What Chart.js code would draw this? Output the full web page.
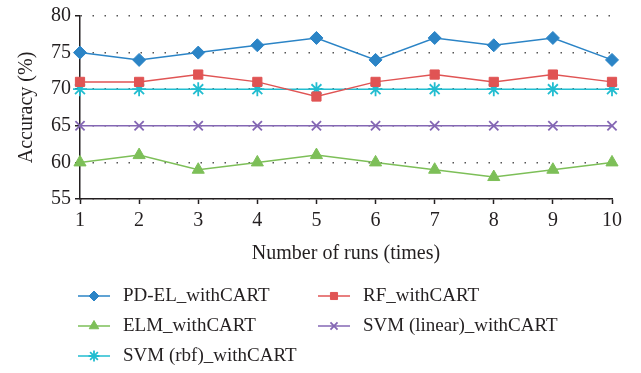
<!DOCTYPE html>
<html>
<head>
<meta charset="utf-8">
<script src="https://cdn.jsdelivr.net/npm/chart.js@4"></script>
<style>
  html, body { margin: 0; padding: 0; background: #fff; }
  #wrap { width: 641px; height: 373px; position: relative; }
</style>
</head>
<body>
<div id="wrap"><canvas id="myChart"></canvas></div>
<script>
// runs on the x axis
const runs = [1, 2, 3, 4, 5, 6, 7, 8, 9, 10];

// accuracy (%) per run
const pdEl = [75, 74, 75, 76, 77, 74, 77, 76, 77, 74];
const rf = [71, 71, 72, 71, 69, 71, 72, 71, 72, 71];
const elm = [60, 61, 59, 60, 61, 60, 59, 58, 59, 60];
const svmLinear = [65, 65, 65, 65, 65, 65, 65, 65, 65, 65];
const svmRbf = [70, 70, 70, 70, 70, 70, 70, 70, 70, 70];

const seriesNames = ['PD-EL_withCART', 'RF_withCART', 'ELM_withCART', 'SVM (linear)_withCART', 'SVM (rbf)_withCART'];
const yTicks = [55, 60, 65, 70, 75, 80];

const serif = "'Liberation Serif', 'DejaVu Serif', serif";

function toPoints(vals) {
    return vals.map((v, i) => ({ x: runs[i], y: v }));
}

function makeSet(label, vals, color, style, radius) {
    return {
        label: label,
        data: toPoints(vals),
        borderColor: color,
        backgroundColor: color,
        borderWidth: 1.5,
        pointStyle: style,
        pointRadius: radius,
        pointBorderWidth: style === 'crossRot' || style === 'star' ? 1.8 : 1,
        pointBorderColor: color,
        pointBackgroundColor: color,
        tension: 0,
        clip: false
    };
}

const datasets = [
    makeSet(seriesNames[0], pdEl, '#2b84c6', 'rectRot', 6.5),
    makeSet(seriesNames[1], rf, '#e05454', 'rect', 6.5),
    makeSet(seriesNames[2], elm, '#7dbf58', 'triangle', 7),
    makeSet(seriesNames[3], svmLinear, '#8467b4', 'crossRot', 6.5),
    makeSet(seriesNames[4], svmRbf, '#22bdd0', 'star', 7)
];

// legend drawn by hand, two columns like the figure
const legendSlots = [
    { x: 78, y: 296 }, { x: 318, y: 296 },
    { x: 78, y: 326 }, { x: 318, y: 326 },
    { x: 78, y: 356 }
];

const sideLegend = {
    id: 'sideLegend',
    afterDraw(chart) {
        const ctx = chart.ctx;
        chart.data.datasets.forEach((ds, i) => {
            const s = legendSlots[i];
            ctx.save();
            ctx.strokeStyle = ds.borderColor;
            ctx.lineWidth = 1.5;
            ctx.beginPath();
            ctx.moveTo(s.x, s.y);
            ctx.lineTo(s.x + 32, s.y);
            ctx.stroke();
            ctx.fillStyle = ds.pointBackgroundColor;
            ctx.strokeStyle = ds.pointBorderColor;
            ctx.lineWidth = ds.pointBorderWidth;
            Chart.helpers.drawPoint(ctx, {
                pointStyle: ds.pointStyle,
                radius: ds.pointRadius - 1.5,
                rotation: 0,
                borderWidth: ds.pointBorderWidth
            }, s.x + 16, s.y);
            ctx.fillStyle = '#231f20';
            ctx.font = '19px ' + serif;
            ctx.textBaseline = 'middle';
            ctx.textAlign = 'left';
            ctx.fillText(ds.label, s.x + 45, s.y);
            ctx.restore();
        });
    }
};

const scales = {
    x: {
        type: 'linear',
        min: 1,
        max: 10,
        afterFit(scale) { scale.height = 70; },
        afterBuildTicks(scale) { scale.ticks = runs.map(v => ({ value: v })); },
        ticks: {
            color: '#231f20',
            padding: 5,
            maxRotation: 0,
            font: { family: serif, size: 20 }
        },
        grid: {
            drawOnChartArea: false,
            drawTicks: true,
            tickLength: 5,
            tickColor: '#231f20',
            tickWidth: 1.5
        },
        border: { display: true, color: '#231f20', width: 1.5 },
        title: {
            display: true,
            text: 'Number of runs (times)',
            color: '#231f20',
            font: { family: serif, size: 20 },
            padding: { top: 0, bottom: 3 }
        }
    },
    y: {
        min: 55,
        max: 80,
        afterFit(scale) { scale.width = 80; },
        afterBuildTicks(scale) { scale.ticks = yTicks.map(v => ({ value: v })); },
        ticks: {
            color: '#231f20',
            padding: 4,
            font: { family: serif, size: 20 }
        },
        grid: {
            color: '#555',
            lineWidth: 1.5,
            tickBorderDash: [],
            tickColor: '#231f20',
            tickWidth: 1.5,
            tickLength: 5
        },
        border: { display: true, color: '#231f20', width: 1.5, dash: [1.5, 10.5] },
        title: {
            display: true,
            text: 'Accuracy (%)',
            color: '#231f20',
            font: { family: serif, size: 20 },
            padding: { top: 15, bottom: 0 }
        }
    }
};

const config = {
    type: 'line',
    data: { datasets: datasets },
    options: {
        responsive: false,
        animation: false,
        devicePixelRatio: 1,
        layout: { padding: { top: 12, right: 29, bottom: 104, left: 0 } },
        scales: scales,
        plugins: {
            legend: { display: false },
            tooltip: { enabled: false }
        }
    },
    plugins: [sideLegend]
};

const canvas = document.getElementById('myChart');
canvas.width = 641;
canvas.height = 373;
const chart = new Chart(canvas, config);
</script>
</body>
</html>
